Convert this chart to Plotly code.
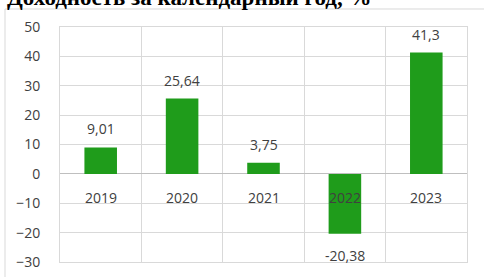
import plotly.graph_objects as go

years = ["2019", "2020", "2021", "2022", "2023"]
returns = [9.01, 25.64, 3.75, -20.38, 41.3]
y_ticks = [-30, -20, -10, 0, 10, 20, 30, 40, 50]
title_text = "Доходность за календарный год, %"

xs = list(range(len(years)))
labels = [str(v).replace(".", ",") for v in returns]

fig = go.Figure()
fig.add_trace(go.Bar(x=xs, y=returns, width=0.4, marker=dict(color="#1f9c1b", line=dict(width=0)),
                     hoverinfo="skip"))

font_fam = "Open Sans"
txt_col = "#404040"
anns = []
for x, v, lab, yr in zip(xs, returns, labels, years):
    if v >= 0:
        anns.append(dict(x=x, y=v, xref="x", yref="y", text=lab, showarrow=False,
                         yanchor="bottom", yshift=7, font=dict(family=font_fam, size=14, color=txt_col)))
    else:
        anns.append(dict(x=x, y=v, xref="x", yref="y", text=lab, showarrow=False,
                         yanchor="top", yshift=-10, font=dict(family=font_fam, size=14, color=txt_col)))
    anns.append(dict(x=x, y=0, xref="x", yref="y", text=yr, showarrow=False,
                     yanchor="top", yshift=-12, font=dict(family=font_fam, size=14, color=txt_col)))

anns.append(dict(x=-0.1351, y=1, xref="paper", yref="paper", text="<b>" + title_text + "</b>",
                 showarrow=False, xanchor="left", yanchor="bottom", yshift=15,
                 font=dict(family="Liberation Serif", size=23, color="black")))

fig.update_layout(
    width=484, height=277,
    margin=dict(l=60, r=17, t=27, b=15, autoexpand=False),
    paper_bgcolor="white", plot_bgcolor="white",
    showlegend=False,
    annotations=anns,
    shapes=[dict(type="rect", xref="paper", yref="paper", x0=-0.1351, x1=1.06, y0=-0.1, y1=1.0766,
                 line=dict(color="#d9d9d9", width=1), fillcolor="rgba(0,0,0,0)", layer="below")],
    xaxis=dict(range=[-0.5, 4.5], tickvals=[i - 0.5 for i in range(len(years) + 1)],
               showticklabels=False, showgrid=True, gridcolor="#d9d9d9", gridwidth=1,
               zeroline=False, showline=True, linecolor="#d9d9d9", mirror=True, ticks="",
               automargin=False),
    yaxis=dict(range=[-30, 50], tickvals=y_ticks, showgrid=True, gridcolor="#d9d9d9", gridwidth=1,
               zeroline=True, zerolinecolor="#bfbfbf", zerolinewidth=1,
               showline=True, linecolor="#d9d9d9", mirror=True, ticks="",
               ticklabelstandoff=16, automargin=False,
               tickfont=dict(family=font_fam, size=14, color=txt_col)),
)

fig.write_html("out.html", config={"displayModeBar": False},
               post_script="document.body.style.margin='0';")
